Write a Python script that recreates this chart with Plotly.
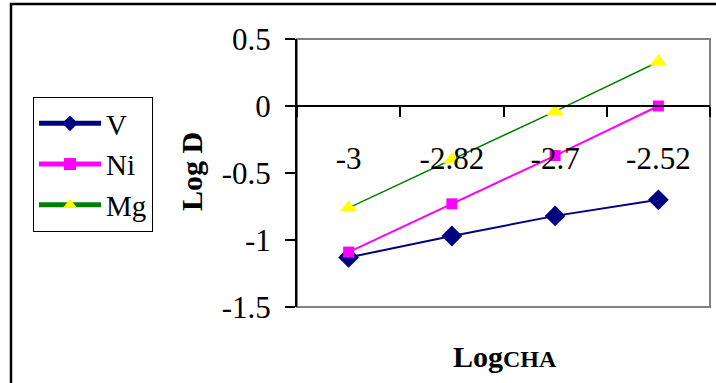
import plotly.graph_objects as go

categories = ["-3", "-2.82", "-2.7", "-2.52"]
v_vals = [-1.13, -0.97, -0.82, -0.70]
ni_vals = [-1.09, -0.73, -0.37, 0.0]
mg_vals = [-0.76, -0.40, -0.04, 0.33]
y_ticks = [0.5, 0, -0.5, -1, -1.5]
y_ticktext = ["0.5", "0", "-0.5", "-1", "-1.5"]

FONT = "Liberation Serif"
W, H = 716, 383
L, R, T, B = 297, 6, 39, 76
pw = W - L - R
ph = H - T - B

def px(x):
    return (x - L) / pw

def py(y):
    return (H - B - y) / ph

fig = go.Figure()
fig.add_trace(go.Scatter(x=categories, y=v_vals, name="V", mode="lines+markers",
                         line=dict(color="#000080", width=2),
                         marker=dict(symbol="diamond", size=16, color="#000080")))
fig.add_trace(go.Scatter(x=categories, y=ni_vals, name="Ni", mode="lines+markers",
                         line=dict(color="#FF00FF", width=2),
                         marker=dict(symbol="square", size=11, color="#FF00FF")))
fig.add_trace(go.Scatter(x=categories, y=mg_vals, name="Mg", mode="lines+markers",
                         line=dict(color="#008000", width=1.5),
                         marker=dict(symbol="triangle-up", size=15, color="#FFFF00")))

fig.update_layout(
    width=W, height=H,
    margin=dict(l=L, r=R, t=T, b=B),
    paper_bgcolor="white", plot_bgcolor="white",
    font=dict(family=FONT, size=31, color="black"),
    showlegend=True,
    legend=dict(x=px(33), y=py(97), xanchor="left", yanchor="top",
                bordercolor="black", borderwidth=1, bgcolor="white",
                font=dict(family=FONT, size=29, color="black"),
                tracegroupgap=0, itemwidth=62, itemsizing="constant"),
    xaxis=dict(type="category", categoryorder="array", categoryarray=categories,
               anchor="free", position=0.75,
               showline=True, linecolor="black", linewidth=2,
               ticks="outside", ticklen=10, tickwidth=2, tickcolor="black",
               tickson="boundaries", ticklabelstandoff=25,
               showgrid=False, zeroline=False,
               tickfont=dict(family=FONT, size=31, color="black"),
               range=[-0.5, 3.5]),
    yaxis=dict(range=[-1.5, 0.5], tickvals=y_ticks, ticktext=y_ticktext,
               showline=True, linecolor="black", linewidth=2,
               ticks="outside", ticklen=10, tickwidth=2, tickcolor="black",
               ticklabelstandoff=8,
               showgrid=False, zeroline=False,
               tickfont=dict(family=FONT, size=31, color="black")),
)

# plot area border (gray)
fig.add_shape(type="rect", xref="paper", yref="paper", x0=0, x1=1, y0=0, y1=1,
              line=dict(color="#808080", width=2), layer="below")
# outer chart frame
fig.add_shape(type="rect", xref="paper", yref="paper",
              x0=px(11), x1=px(730), y0=py(400), y1=py(4),
              line=dict(color="black", width=2.5), layer="below")

fig.add_annotation(text="<b>Log D</b>", xref="paper", yref="paper",
                   x=px(191), y=py(172), xanchor="center", yanchor="middle",
                   textangle=-90, showarrow=False,
                   font=dict(family=FONT, size=30, color="black"))
fig.add_annotation(text="<b>Log<span style='font-size:24px'>CHA</span></b>",
                   xref="paper", yref="paper",
                   x=px(505), y=py(356), xanchor="center", yanchor="middle",
                   showarrow=False,
                   font=dict(family=FONT, size=30, color="black"))

fig.write_html("out.html")
